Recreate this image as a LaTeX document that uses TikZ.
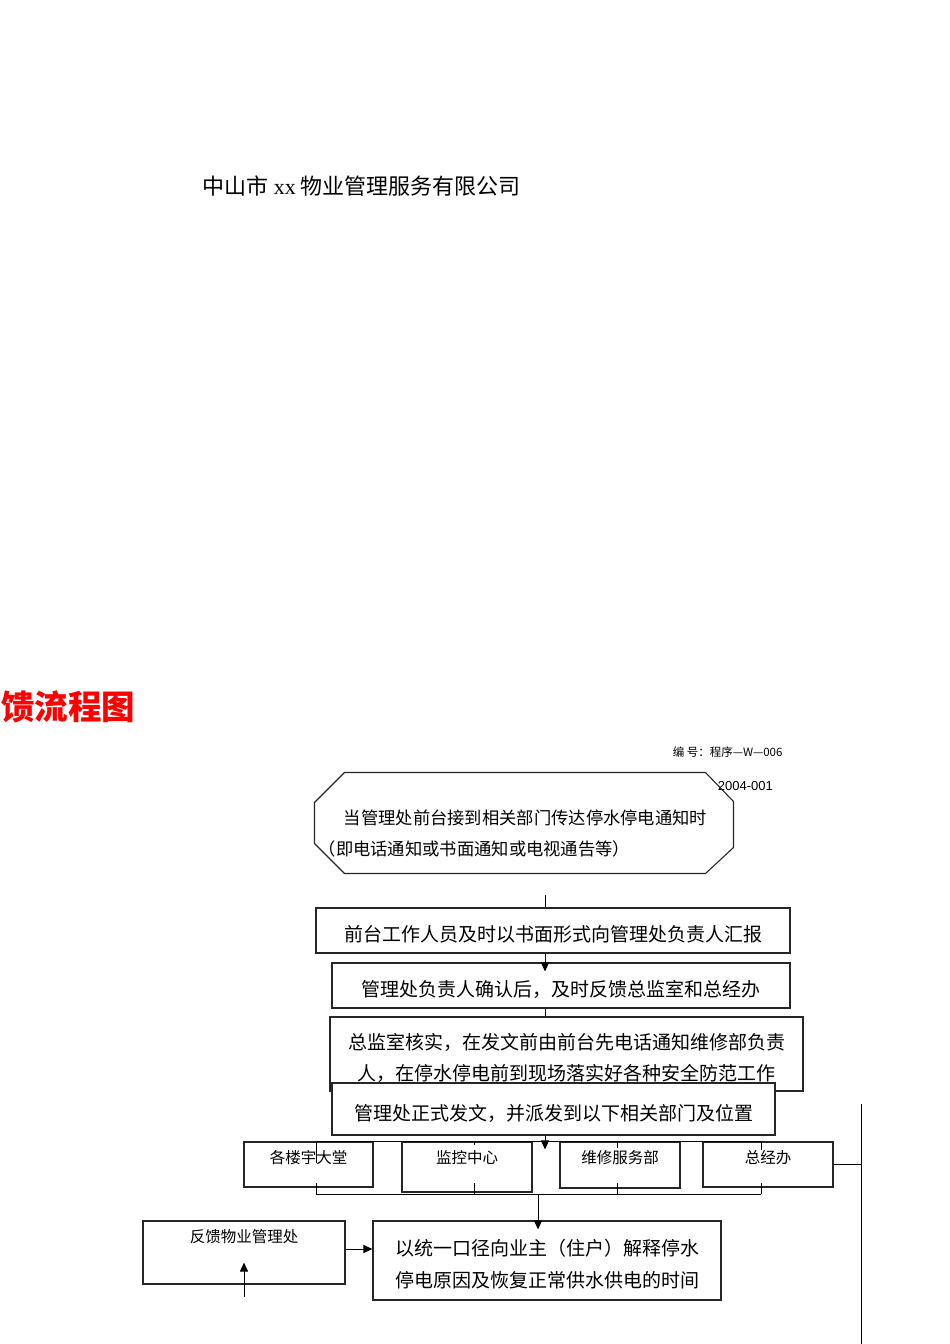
\documentclass[tikz,border=0pt]{standalone}
\usepackage{fontspec}
\setmainfont{Noto Sans CJK SC}
\newfontfamily\lat{Liberation Serif}
\newfontfamily\latsans{Liberation Sans}
\usetikzlibrary{arrows.meta,calc}
\newcommand\dnline[1]{\raisebox{-4pt}[\height][\depth]{#1}}
\begin{document}
\begin{tikzpicture}[x=1pt,y=-1pt,
  line width=1pt,
  boxst/.style={draw=black!85, line width=1.1pt, minimum width=#1, inner sep=0pt, align=center},
  bigtxt/.style={font=\fontsize{19}{31}\selectfont},
  smalltxt/.style={font=\fontsize{15.5}{18}\selectfont},
  arr/.style={-{Triangle[length=9pt,width=8pt]}},
  conn/.style={draw=black, line width=1pt}
]
\useasboundingbox (0,0) rectangle (950,1344);

% headings
\node[anchor=west, font=\fontsize{22}{24}\selectfont] (title) at (199,186) {中山市 {\lat xx} 物业管理服务有限公司};
\node[anchor=west, font=\bfseries\fontsize{33.5}{36}\selectfont, text=red, inner sep=0pt] (redtitle) at (1,707) {馈流程图};
\node[anchor=west, font=\fontsize{11.5}{13}\selectfont] (code) at (669,752) {编 号：程序—W—006};
\node[anchor=west, font=\latsans\fontsize{13}{15}\selectfont] (date) at (714,786) {2004-001};

% octagon
\node[minimum width=418pt, minimum height=100pt, inner sep=0pt] (oct) at (524,823) {};
\draw[draw=black!85, line width=1.1pt]
  ($(oct.north west)+(30,0)$) -- ($(oct.north east)+(-28,0)$) -- ($(oct.north east)+(0,29)$)
  -- ($(oct.south east)+(0,-26)$) -- ($(oct.south east)+(-28,0)$) -- ($(oct.south west)+(30,0)$)
  -- ($(oct.south west)+(0,-30)$) -- ($(oct.north west)+(0,30)$) -- cycle;
\node[anchor=west, align=left, font=\fontsize{17.3}{31}\selectfont] (octtext) at (340,834)
  {当管理处前台接到相关部门传达停水停电通知时\\\hspace*{-1.45em}（即电话通知或书面通知或电视通告等）};

% main boxes
\node[boxst=474pt, minimum height=45pt, bigtxt] (b1) at (553,930.5) {\dnline{前台工作人员及时以书面形式向管理处负责人汇报}};
\node[boxst=458pt, minimum height=45pt, bigtxt] (b2) at (561,985.5) {\dnline{管理处负责人确认后，及时反馈总监室和总经办}};
\node[boxst=473pt, minimum height=74pt, bigtxt] (b3) at (566.5,1054) {\dnline{总监室核实，在发文前由前台先电话通知维修部负责}\\\dnline{人，在停水停电前到现场落实好各种安全防范工作}};
\node[boxst=443pt, minimum height=52pt, bigtxt, fill=white] (b4) at (553.5,1109) {\dnline{管理处正式发文，并派发到以下相关部门及位置}};

% department row
\node[boxst=129pt, minimum height=45pt, label={[smalltxt, anchor=north, yshift=-5pt]north:各楼宇大堂}] (r1) at (308.5,1164.5) {};
\node[boxst=130pt, minimum height=50pt, label={[smalltxt, anchor=north, yshift=-5pt]north:监控中心}] (r2) at (467,1167) {};
\node[boxst=120pt, minimum height=46pt, label={[smalltxt, anchor=north, yshift=-5pt]north:维修服务部}] (r3) at (620,1165) {};
\node[boxst=130pt, minimum height=45pt, label={[smalltxt, anchor=north, yshift=-5pt]north:总经办}] (r4) at (768,1164.5) {};

% bottom boxes
\node[boxst=202pt, minimum height=63pt, label={[smalltxt, anchor=north, yshift=-5pt]north:反馈物业管理处}] (fk) at (244,1252.5) {};
\node[boxst=348pt, minimum height=79pt, font=\fontsize{19}{32}\selectfont] (fin) at (547,1260.5) {\dnline{以统一口径向业主（住户）解释停水}\\\dnline{停电原因及恢复正常供水供电的时间}};

% coordinates
\coordinate (c1) at (545,895);
\coordinate (tb1) at (316,1141);
\coordinate (tb2) at (474,1141);
\coordinate (tb3) at (617,1141);
\coordinate (tb4) at (761,1141);
\coordinate (bb1) at (316,1194);
\coordinate (bb2) at (474,1194);
\coordinate (bb3) at (617,1194);
\coordinate (bb4) at (761,1194);
\coordinate (bbo) at (538,1194);
\coordinate (rvt) at (861,1104);
\coordinate (rvb) at (861,1344);
\coordinate (fkin) at (244,1297);

% connectors
\draw[conn] (c1) -- (c1 |- b1.north);
\draw[conn, arr] (c1 |- b1.south) -- ([yshift=-9pt]c1 |- b2.north);
\draw[conn] (c1 |- b2.south) -- (c1 |- b3.north);
\draw[conn, arr] (c1 |- b4.south) -- ([yshift=-8pt]c1 |- r1.north);

\draw[conn] (tb1) -- (tb4);
\draw[conn] (tb1) -- ++(0,22);
\draw[conn] (tb2) -- ++(0,4);
\draw[conn] (tb3) -- ++(0,7);
\draw[conn] (tb4) -- ++(0,9);

\draw[conn] (bb1) -- (bb4);
\draw[conn] (bb1) -- ++(0,-11);
\draw[conn] (bb2) -- ++(0,-11);
\draw[conn] (bb3) -- ++(0,-11);
\draw[conn] (bb4) -- ++(0,-11);
\draw[conn, arr] (bbo) -- ([yshift=-9pt]bbo |- fin.north);

\draw[conn] (r4.east) -- (r4.east -| rvt);
\draw[conn] (rvt) -- (rvb);

\draw[conn, arr] (fkin) -- ([yshift=22pt]fk.south);
\draw[conn, arr] ([yshift=3.5pt]fk.east) -- ([yshift=3.5pt]fk.east -| fin.west);
\end{tikzpicture}
\end{document}
